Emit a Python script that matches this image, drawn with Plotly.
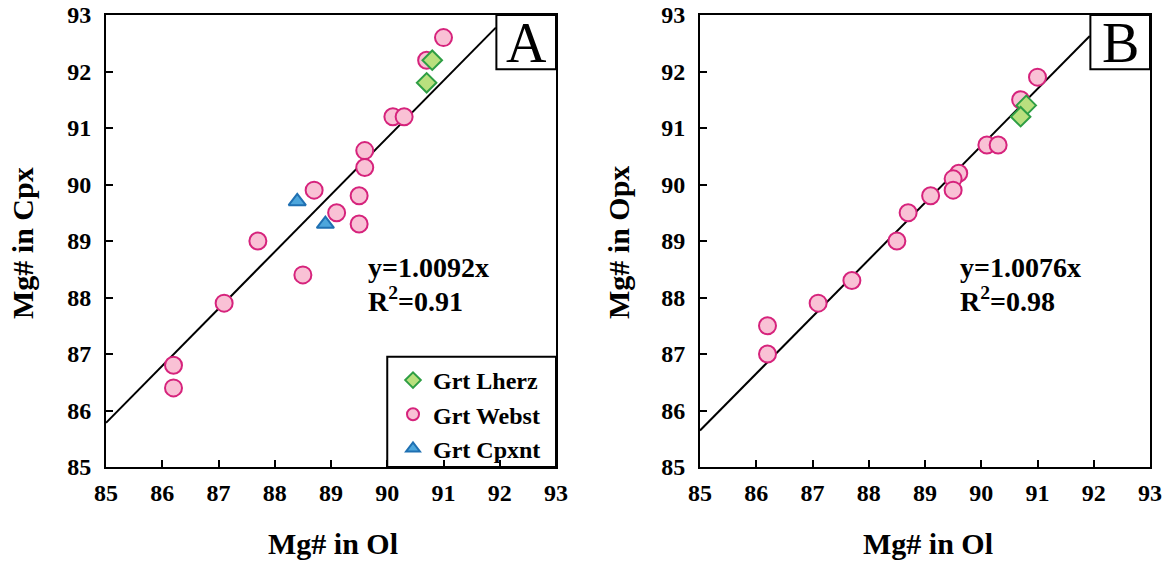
import plotly.graph_objects as go

# Panel A: Mg# in Cpx vs Mg# in Ol
a_lherz_x = [90.8, 90.7]
a_lherz_y = [92.2, 91.8]
a_webst_x = [91.0, 90.7, 90.1, 90.3, 89.6, 89.6, 88.7, 89.5, 89.1, 89.5, 87.7, 88.5, 87.1, 86.2, 86.2]
a_webst_y = [92.6, 92.2, 91.2, 91.2, 90.6, 90.3, 89.9, 89.8, 89.5, 89.3, 89.0, 88.4, 87.9, 86.8, 86.4]
a_cpxnt_x = [88.4, 88.9]
a_cpxnt_y = [89.7, 89.3]
a_slope = 1.0092
a_r2 = 0.91

# Panel B: Mg# in Opx vs Mg# in Ol
b_lherz_x = [90.8, 90.7]
b_lherz_y = [91.4, 91.2]
b_webst_x = [91.0, 90.7, 90.1, 90.3, 89.6, 89.5, 89.5, 89.1, 88.7, 88.5, 87.7, 87.1, 86.2, 86.2]
b_webst_y = [91.9, 91.5, 90.7, 90.7, 90.2, 90.1, 89.9, 89.8, 89.5, 89.0, 88.3, 87.9, 87.5, 87.0]
b_slope = 1.0076
b_r2 = 0.98

fit_x = [85.0, 91.93]
ticks = [85, 86, 87, 88, 89, 90, 91, 92, 93]

W, H = 1169, 565
SERIF = "Liberation Serif"

lherz_style = dict(symbol="diamond", size=15, color="#B9E07E", line=dict(color="#2E9E44", width=2))
webst_style = dict(symbol="circle", size=17, color="#F9C1D5", line=dict(color="#D6237C", width=2))
cpxnt_style = dict(symbol="triangle-up", size=15, color="#4DA6DC", line=dict(color="#1F70B2", width=2))

fig = go.Figure()


def add_panel(xa, ya, lx, ly, wx, wy, cx, cy, slope, showlegend):
    fig.add_trace(go.Scatter(x=fit_x, y=[slope * v for v in fit_x], mode="lines",
                             line=dict(color="black", width=2), xaxis=xa, yaxis=ya,
                             showlegend=False, hoverinfo="skip"))
    fig.add_trace(go.Scatter(x=wx, y=wy, mode="markers", marker=webst_style, name="Grt Webst",
                             xaxis=xa, yaxis=ya, showlegend=showlegend, legendrank=2))
    if cx:
        fig.add_trace(go.Scatter(x=cx, y=cy, mode="markers", marker=cpxnt_style, name="Grt Cpxnt",
                                 xaxis=xa, yaxis=ya, showlegend=showlegend, legendrank=3))
    fig.add_trace(go.Scatter(x=lx, y=ly, mode="markers", marker=lherz_style, name="Grt Lherz",
                             xaxis=xa, yaxis=ya, showlegend=showlegend, legendrank=1))


add_panel("x", "y", a_lherz_x, a_lherz_y, a_webst_x, a_webst_y, a_cpxnt_x, a_cpxnt_y, a_slope, True)
add_panel("x2", "y2", b_lherz_x, b_lherz_y, b_webst_x, b_webst_y, [], [], b_slope, False)

ydom = [1 - 467 / H, 1 - 15 / H]
axis_common = dict(range=[85, 93], tickvals=ticks, ticks="inside", ticklen=7, tickwidth=2,
                   tickcolor="black", showline=True, linecolor="black", linewidth=2, mirror=True,
                   showgrid=False, zeroline=False, automargin=False,
                   tickfont=dict(family=SERIF, size=24, color="black", weight="bold"))

fig.update_layout(
    template="none",
    width=W, height=H, margin=dict(l=0, r=0, t=0, b=0, autoexpand=False),
    paper_bgcolor="white", plot_bgcolor="white",
    xaxis=dict(domain=[106 / W, 556 / W], anchor="y", ticklabelstandoff=3, **axis_common),
    yaxis=dict(domain=ydom, anchor="x", ticklabelstandoff=8, **axis_common),
    xaxis2=dict(domain=[700 / W, 1150 / W], anchor="y2", ticklabelstandoff=3, **axis_common),
    yaxis2=dict(domain=ydom, anchor="x2", ticklabelstandoff=8, **axis_common),
    legend=dict(x=393 / W, y=1 - 358 / H, xanchor="left", yanchor="top",
                bgcolor="rgba(0,0,0,0)", borderwidth=0, traceorder="normal",
                font=dict(family=SERIF, size=24, color="black", weight="bold"),
                itemsizing="constant"),
    showlegend=True,
)

# Legend frame in panel A
fig.add_shape(type="rect", xref="x", yref="y", x0=90.0, x1=93, y0=85, y1=86.95,
              line=dict(color="black", width=2), fillcolor="rgba(0,0,0,0)")

# Panel letter boxes
for xr, yr, letter in [("x", "y", "A"), ("x2", "y2", "B")]:
    fig.add_shape(type="rect", xref=xr, yref=yr, x0=91.94, x1=93, y0=92.04, y1=93,
                  line=dict(color="black", width=2), fillcolor="white")
    fig.add_annotation(x=92.47, y=92.5, xref=xr, yref=yr, text=letter, showarrow=False,
                       xanchor="center", yanchor="middle",
                       font=dict(family=SERIF, size=56, color="black"))

# Regression equations
eq_font = dict(family=SERIF, size=28, color="black", weight="bold")
for slope, r2, x0 in [(a_slope, a_r2, 366), (b_slope, b_r2, 958)]:
    fig.add_annotation(x=x0 / W, y=1 - 268 / H, xref="paper", yref="paper", xanchor="left",
                       yanchor="middle", text=f"y={slope:.4f}x", showarrow=False, font=eq_font)
    fig.add_annotation(x=x0 / W, y=1 - 299 / H, xref="paper", yref="paper", xanchor="left",
                       yanchor="middle", text=f"R<sup>2</sup>={r2:.2f}", showarrow=False,
                       font=eq_font)

# Axis titles
title_font = dict(family=SERIF, size=30, color="black", weight="bold")
for xc in [333, 928]:
    fig.add_annotation(x=xc / W, y=1 - 543 / H, xref="paper", yref="paper",
                       xanchor="center", yanchor="middle",
                       text="Mg# in Ol", showarrow=False, font=title_font)
for xc, label in [(22, "Mg# in Cpx"), (618, "Mg# in Opx")]:
    fig.add_annotation(x=xc / W, y=1 - 243 / H, xref="paper", yref="paper", text=label,
                       xanchor="center", yanchor="middle",
                       textangle=-90, showarrow=False, font=title_font)

fig.write_html("out.html")
